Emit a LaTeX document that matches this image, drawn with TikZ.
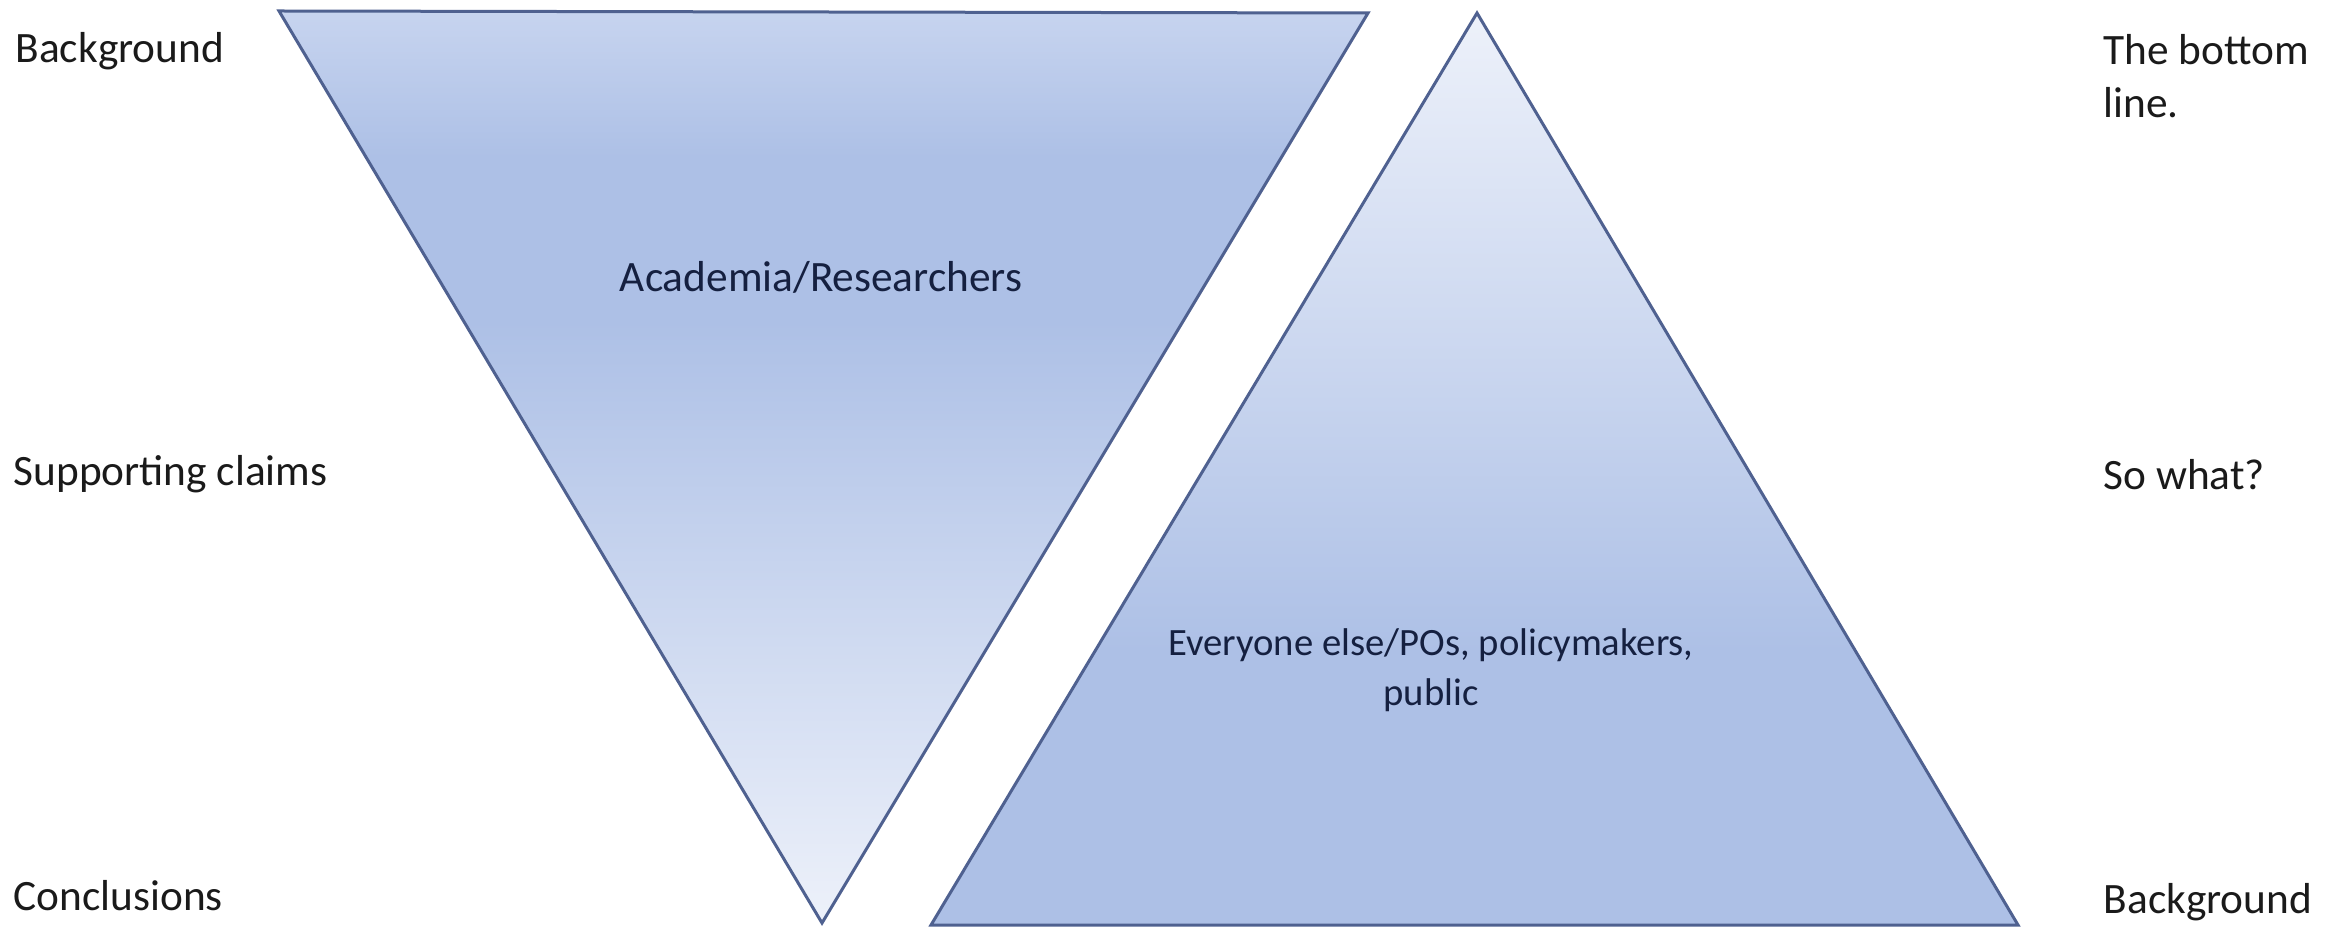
\documentclass[tikz,border=0pt]{standalone}
\usepackage{fontspec}
\setmainfont{Carlito}
\definecolor{edgeblue}{HTML}{4F6190}
\definecolor{paleblue}{HTML}{EDF1FA}
\definecolor{midblue}{HTML}{ADC0E6}
\definecolor{topblue}{HTML}{C7D4EF}
\definecolor{txt}{HTML}{1A1A1A}
\definecolor{intxt}{HTML}{152040}
% inner 25bp..75bp spans the filled path
\pgfdeclareverticalshading{downfade}{100bp}{color(0bp)=(paleblue); color(25bp)=(paleblue); color(58bp)=(midblue); color(67bp)=(midblue); color(75bp)=(topblue); color(100bp)=(topblue)}
\pgfdeclareverticalshading{upfade}{100bp}{color(0bp)=(midblue); color(25bp)=(midblue); color(40bp)=(midblue); color(75bp)=(paleblue); color(100bp)=(paleblue)}
\tikzset{
  tri/.style={draw=edgeblue, line width=0.9pt, line join=miter},
  side/.style={font=\fontsize{13}{16}\selectfont, text=txt, inner sep=0pt, align=left},
  inlabel/.style={text=intxt, inner sep=0pt, align=center}
}
\begin{document}
\begin{tikzpicture}[x=0.3pt, y=-0.3pt]
\useasboundingbox (0,0) rectangle (2340,928);
% inverted triangle
\path[tri, shading=downfade] (279,11) -- (1368,13) -- (822,923) -- cycle;
% upright triangle
\path[tri, shading=upfade] (1477,13) -- (2018,925) -- (931,925) -- cycle;
\node[inlabel, font=\fontsize{13}{15}\selectfont, anchor=base] (acad) at (821,292) {Academia/Researchers};
% multi-line nodes: base anchor sits on the last line
\node[inlabel, font=\fontsize{11.6}{15}\selectfont, anchor=base] (rest) at (1431,705) {Everyone else/POs, policymakers,\\public};
% left column
\node[side, anchor=base west] (bgl) at (15,63) {Background};
\node[side, anchor=base west] (sup) at (13,485) {Supporting claims};
\node[side, anchor=base west] (con) at (13,910) {Conclusions};
% right column
\node[side, anchor=base west] (bot) at (2103,118) {The bottom\\line.};
\node[side, anchor=base west] (sow) at (2103,490) {So what?};
\node[side, anchor=base west] (bgr) at (2103,913) {Background};
\end{tikzpicture}
\end{document}
